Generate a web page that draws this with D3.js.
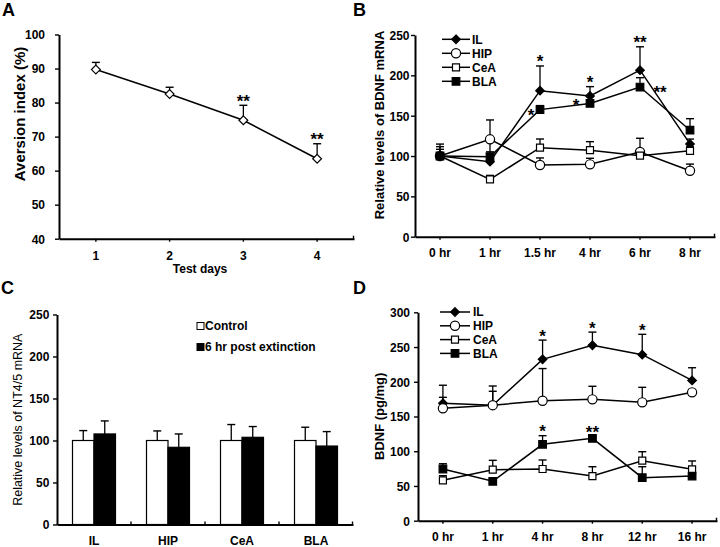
<!DOCTYPE html>
<html><head><meta charset="utf-8">
<script src="https://cdn.jsdelivr.net/npm/d3@7"></script>
<style>
body{margin:0;background:#fff;}
svg{display:block;font-family:"Liberation Sans",Arial,Helvetica,sans-serif;}
</style></head><body>
<svg id="chart" width="720" height="547"></svg>
<script>
// ---------- Panel A data ----------
const daysA = ["1","2","3","4"];
const aversionA = [89.7, 82.5, 74.8, 63.5];
const aversionErrA = [2.1, 2.0, 4.4, 4.4];
const sigA = ["", "", "**", "**"];
const yTicksA = [40,50,60,70,80,90,100];

// ---------- Panel B data ----------
const timesB = ["0 hr","1 hr","1.5 hr","4 hr","6 hr","8 hr"];
const ilB  = [100, 93, 181, 174.4, 206.4, 115];
const ilErrB = [11.6, 25, 30.6, 11.6, 29, 6];
const hipB = [100, 120.7, 88.9, 89.7, 105, 81.8];
const hipErrB = [8.3, 24, 8.7, 7.5, 17, 8.2];
const ceaB = [100, 71, 110.3, 107.3, 100.4, 106.4];
const ceaErrB = [14.8, 5, 10.8, 10.5, 5, 5];
const blaB = [100, 99.2, 157.5, 165.2, 185.5, 132];
const blaErrB = [4, 6, 5, 4, 11.6, 14.3];
const sigIlB  = ["", "", "*", "*", "**", ""];
const sigBlaB = ["", "", "*", "*", "**", ""];
const yTicksB = [0,50,100,150,200,250];

// ---------- Panel C data ----------
const regionsC = ["IL","HIP","CeA","BLA"];
const controlC = [100, 100, 100, 100];
const controlErrC = [11.8, 11.4, 19, 15.8];
const postC = [107.8, 91.9, 103.8, 93.4];
const postErrC = [15.5, 15.9, 12.8, 17.2];
const legendC = ["Control", "6 hr post extinction"];
const yTicksC = [0,50,100,150,200,250];

// ---------- Panel D data ----------
const timesD = ["0 hr","1 hr","4 hr","8 hr","12 hr","16 hr"];
const ilD  = [169, 166.3, 232.3, 252.5, 239, 202];
const ilErrD = [26, 27.6, 27.7, 19, 29.3, 18.2];
const hipD = [161.8, 166.3, 172.7, 174.7, 170.4, 184.8];
const hipErrD = [15.8, 20, 46.3, 18.8, 21.6, 4];
const ceaD = [58.1, 73.4, 74.4, 64.3, 86.4, 74];
const ceaErrD = [6.7, 13.5, 13, 13.4, 12.9, 12];
const blaD = [74.4, 56.7, 110, 118.6, 61.9, 64.3];
const blaErrD = [7.6, 3, 12.4, 3, 15.8, 3];
const sigIlD  = ["", "", "*", "*", "*", ""];
const sigBlaD = ["", "", "*", "**", "", ""];
const yTicksD = [0,50,100,150,200,250,300];

const seriesNames = ["IL","HIP","CeA","BLA"];

// ---------- helpers ----------
const svg = d3.select("#chart");
const shapes = {
  diamond: {draw(c, r){ c.moveTo(0,-r); c.lineTo(r,0); c.lineTo(0,r); c.lineTo(-r,0); c.closePath(); }},
  square:  {draw(c, r){ c.rect(-r,-r,2*r,2*r); }},
  circle:  {draw(c, r){ c.moveTo(r,0); c.arc(0,0,r,0,2*Math.PI); c.closePath(); }}
};
const seriesStyle = {
  IL:  {shape: shapes.diamond, r: 4.3, fill: "#000"},
  HIP: {shape: shapes.circle,  r: 4.6, fill: "#fff"},
  CeA: {shape: shapes.square,  r: 3.5, fill: "#fff"},
  BLA: {shape: shapes.square,  r: 3.8, fill: "#000"}
};
const TICKFONT = "12px";

function styleAxis(sel){
  sel.select(".domain").attr("stroke","#000").attr("stroke-width",2);
  sel.selectAll(".tick line").attr("stroke","#000").attr("stroke-width",1.4);
  sel.selectAll(".tick text").attr("fill","#000").style("font-size",TICKFONT).style("font-weight","bold");
}

function axes(g, x, y, o){
  const ya = d3.axisLeft(y).tickValues(o.yTicks).tickSize(4).tickSizeOuter(0).tickPadding(o.yPad);
  const gy = g.append("g").attr("transform",`translate(${o.x0},0)`).call(ya);
  styleAxis(gy);
  gy.selectAll(".tick text").attr("dy","0.36em");
  const xa = d3.axisBottom(x).tickSize(o.xTicks ? 3 : 0).tickSizeOuter(0).tickPadding(o.xPad);
  const gx = g.append("g").attr("transform",`translate(0,${o.yBase})`).call(xa);
  styleAxis(gx);
  // end tick on the right
  g.append("line").attr("x1",o.x1-0.5).attr("x2",o.x1-0.5).attr("y1",o.yBase).attr("y2",o.yBase-3)
    .attr("stroke","#000").attr("stroke-width",1.4);
  return {gx, gy};
}

function ylabel(g, text, x, y, size, weight){
  g.append("text").attr("transform",`translate(${x},${y}) rotate(-90)`)
    .attr("text-anchor","middle").style("font-size",size).style("font-weight",weight).text(text);
}
function panelLabel(text, x, y){
  svg.append("text").attr("x",x).attr("y",y).style("font-size","18px").style("font-weight","bold").text(text);
}
function star(g, text, cx, cy){
  g.append("text").attr("x",cx).attr("y",cy+9.5).attr("text-anchor","middle")
    .style("font-size","17px").style("font-weight","bold").text(text);
}
function errBar(g, cx, yv, ye){
  g.append("line").attr("x1",cx).attr("x2",cx).attr("y1",yv).attr("y2",ye).attr("stroke","#000").attr("stroke-width",1.3);
  g.append("line").attr("x1",cx-4).attr("x2",cx+4).attr("y1",ye).attr("y2",ye).attr("stroke","#000").attr("stroke-width",1.4);
}

function linePanel(o){
  const g = svg.append("g");
  const x = d3.scaleBand().domain(o.cats).range([o.x0,o.x1]);
  const y = d3.scaleLinear().domain(o.yDomain).range([o.yBase,o.yTop]);
  const cx = d => x(d) + x.bandwidth()/2;
  axes(g, x, y, o);
  const line = d3.line().x((d,i)=>cx(o.cats[i])).y(d=>y(d));
  o.series.forEach(s=>{
    g.append("path").attr("d",line(s.values)).attr("fill","none").attr("stroke","#000").attr("stroke-width",1.5);
  });
  o.series.forEach(s=>{
    s.values.forEach((v,i)=>errBar(g, cx(o.cats[i]), y(v), y(v+s.err[i])));
  });
  o.series.forEach(s=>{
    const st = s.style;
    g.selectAll(null).data(s.values).enter().append("path")
      .attr("transform",(d,i)=>`translate(${cx(o.cats[i])},${y(d)})`)
      .attr("d", d3.symbol().type(st.shape).size(st.r))
      .attr("fill",st.fill).attr("stroke","#000").attr("stroke-width",1.2);
  });
  return {g, x, y, cx};
}

function legend(g, names, lx0, lx1, tx, y0, dy){
  names.forEach((n,i)=>{
    const yy = y0 + i*dy;
    const st = seriesStyle[n];
    g.append("line").attr("x1",lx0).attr("x2",lx1).attr("y1",yy).attr("y2",yy).attr("stroke","#000").attr("stroke-width",1.5);
    g.append("path").attr("transform",`translate(${(lx0+lx1)/2},${yy})`)
      .attr("d", d3.symbol().type(st.shape).size(st.r)).attr("fill",st.fill).attr("stroke","#000").attr("stroke-width",1.2);
    g.append("text").attr("x",tx).attr("y",yy).attr("dy","0.36em").style("font-size","12px").style("font-weight","bold").text(n);
  });
}

// ---------- Panel A ----------
{
  const p = linePanel({x0:59, x1:354, yTop:34.5, yBase:238.7, yDomain:[40,100], yTicks:yTicksA, yPad:10, xPad:9.5, xTicks:true,
    cats: daysA, series:[{values:aversionA, err:aversionErrA, style:{shape:shapes.diamond, r:4.4, fill:"#fff"}}]});
  sigA.forEach((s,i)=>{ if(s) star(p.g, s, p.cx(daysA[i]), p.y(aversionA[i]+aversionErrA[i]) - 8); });
  ylabel(p.g, "Aversion index (%)", 25, 114, "15px", "bold");
  p.g.append("text").attr("x",200).attr("y",272.5).attr("text-anchor","middle").style("font-size","12px").style("font-weight","bold").text("Test days");
  panelLabel("A", 2, 15.5);
}

// ---------- Panel B ----------
{
  const vals = {IL:[ilB,ilErrB], HIP:[hipB,hipErrB], CeA:[ceaB,ceaErrB], BLA:[blaB,blaErrB]};
  const p = linePanel({x0:415, x1:715, yTop:35, yBase:236.7, yDomain:[0,250], yTicks:yTicksB, yPad:1.5, xPad:9, xTicks:true,
    cats: timesB, series: seriesNames.map(n=>({values:vals[n][0], err:vals[n][1], style:seriesStyle[n]}))});
  sigIlB.forEach((s,i)=>{ if(s) star(p.g, s, p.cx(timesB[i]), p.y(ilB[i]+ilErrB[i]) - 8); });
  const side = [null,null,[-9,2],[-14,-2],[20,1],null];
  sigBlaB.forEach((s,i)=>{ if(s) star(p.g, s, p.cx(timesB[i])+side[i][0], p.y(blaB[i])+side[i][1]); });
  legend(p.g, seriesNames, 442, 470, 472, 39.3, 14);
  ylabel(p.g, "Relative levels of BDNF mRNA", 383.5, 125, "13px", "bold");
  panelLabel("B", 353, 15.5);
}

// ---------- Panel C ----------
{
  const g = svg.append("g");
  const x0 = 57, x1 = 353, yBase = 524.5, yTop = 314.5;
  const x = d3.scaleBand().domain(regionsC).range([x0,x1]);
  const y = d3.scaleLinear().domain([0,250]).range([yBase,yTop]);
  const a = axes(g, x, y, {x0, x1, yBase, yTicks:yTicksC, yPad:3.7, xPad:12, xTicks:false});
  // ticks between categories
  regionsC.slice(1).forEach(r=>{
    g.append("line").attr("x1",x(r)).attr("x2",x(r)).attr("y1",yBase).attr("y2",yBase-3).attr("stroke","#000").attr("stroke-width",1.4);
  });
  const bw = 21.5;
  const groups = [
    {vals:controlC, err:controlErrC, fill:"#fff", off:-bw},
    {vals:postC, err:postErrC, fill:"#000", off:0}
  ];
  groups.forEach(gr=>{
    gr.vals.forEach((v,i)=>{
      const c = x(regionsC[i]) + x.bandwidth()/2 + gr.off;
      errBar(g, c + bw/2, y(v), y(v+gr.err[i]));
    });
    g.selectAll(null).data(gr.vals).enter().append("rect")
      .attr("x",(d,i)=>x(regionsC[i]) + x.bandwidth()/2 + gr.off)
      .attr("y",d=>y(d)).attr("width",bw).attr("height",d=>yBase-y(d))
      .attr("fill",gr.fill).attr("stroke","#000").attr("stroke-width",1.2);
  });
  // legend
  [["#fff",326],["#000",347]].forEach((l,i)=>{
    g.append("rect").attr("x",197).attr("y",l[1]-3.5).attr("width",7).attr("height",7).attr("fill",l[0]).attr("stroke","#000").attr("stroke-width",1);
    g.append("text").attr("x",205).attr("y",l[1]).attr("dy","0.36em").style("font-size","12px").style("font-weight","bold").text(legendC[i]);
  });
  ylabel(g, "Relative levels of NT4/5 mRNA", 21.5, 419.7, "12.5px", "normal");
  panelLabel("C", 1, 293.5);
}

// ---------- Panel D ----------
{
  const vals = {IL:[ilD,ilErrD], HIP:[hipD,hipErrD], CeA:[ceaD,ceaErrD], BLA:[blaD,blaErrD]};
  const p = linePanel({x0:418, x1:717, yTop:312.3, yBase:520.7, yDomain:[0,300], yTicks:yTicksD, yPad:4, xPad:9, xTicks:true,
    cats: timesD, series: seriesNames.map(n=>({values:vals[n][0], err:vals[n][1], style:seriesStyle[n]}))});
  sigIlD.forEach((s,i)=>{ if(s) star(p.g, s, p.cx(timesD[i]), p.y(ilD[i]+ilErrD[i]) - 8); });
  sigBlaD.forEach((s,i)=>{ if(s) star(p.g, s, p.cx(timesD[i]), p.y(blaD[i]+blaErrD[i]) - 8); });
  legend(p.g, seriesNames, 440, 470, 473, 312, 13.8);
  ylabel(p.g, "BDNF (pg/mg)", 383.5, 416.3, "13px", "bold");
  panelLabel("D", 353, 293.5);
}
</script>
</body></html>
